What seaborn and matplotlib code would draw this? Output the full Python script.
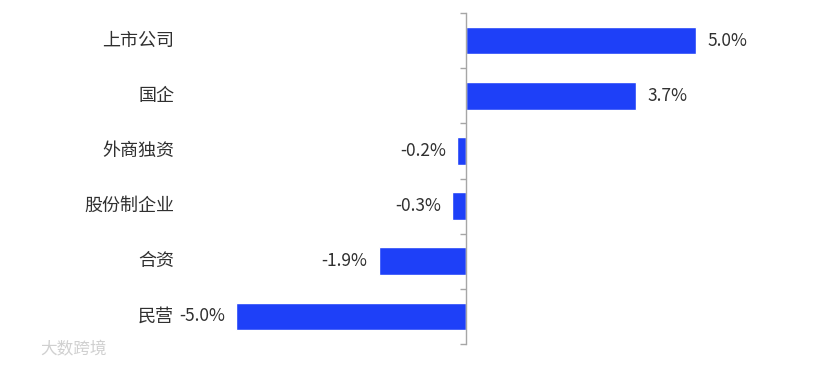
import matplotlib
matplotlib.use("Agg")
import matplotlib.pyplot as plt
import seaborn as sns
import pandas as pd
from matplotlib.ticker import FixedLocator

categories = ["上市公司", "国企", "外商独资", "股份制企业", "合资", "民营"]
values = [5.0, 3.7, -0.2, -0.3, -1.9, -5.0]
value_labels = ["5.0%", "3.7%", "-0.2%", "-0.3%", "-1.9%", "-5.0%"]

sns.set_theme(style="white")
plt.rcParams['font.family'] = ['Noto Sans CJK SC', 'DejaVu Sans']

df = pd.DataFrame({"cat": categories, "val": values})

fig = plt.figure(figsize=(8.22, 3.65), dpi=100)
ax = fig.add_axes([180/822, (365-344)/365, (760-180)/822, (344-13)/365])

sns.barplot(data=df, x="val", y="cat", orient="h", color="#1E40F8",
            width=0.5, ax=ax, saturation=1)

ax.set_xlim(-6.22, 6.39)
ax.set_ylim(5.5, -0.5)

for s in ["top", "right", "bottom"]:
    ax.spines[s].set_visible(False)
ax.spines["left"].set_position(("data", 0))
ax.spines["left"].set_color("#A6A6A6")
ax.spines["left"].set_linewidth(1.0)

ax.set_xticks([])
ax.set_xlabel("")
ax.set_ylabel("")
ax.set_yticks(range(len(categories)))
ax.set_yticklabels([])
ax.tick_params(axis="y", which="major", length=0)
ax.yaxis.set_minor_locator(FixedLocator([i - 0.5 for i in range(len(categories) + 1)]))
ax.tick_params(axis="y", which="minor", length=4, width=1, color="#A6A6A6", direction="out", left=True)

for i, c in enumerate(categories):
    ax.text(-0.010, i, c, transform=ax.get_yaxis_transform(), ha="right", va="center",
            fontsize=13, color="#303030")

for i, (v, lab) in enumerate(zip(values, value_labels)):
    off = 8 if v >= 0 else -8
    ax.annotate(lab, xy=(v, i), xytext=(off, 0), textcoords="offset points",
                ha="left" if v >= 0 else "right", va="center", fontsize=12.5, color="#303030")

fig.text(40/822, 1 - 350/365, "大数跨境", ha="left", va="center", fontsize=12,
         color="#D0D0D0")

fig.savefig("out.png", dpi=100, facecolor="white")
